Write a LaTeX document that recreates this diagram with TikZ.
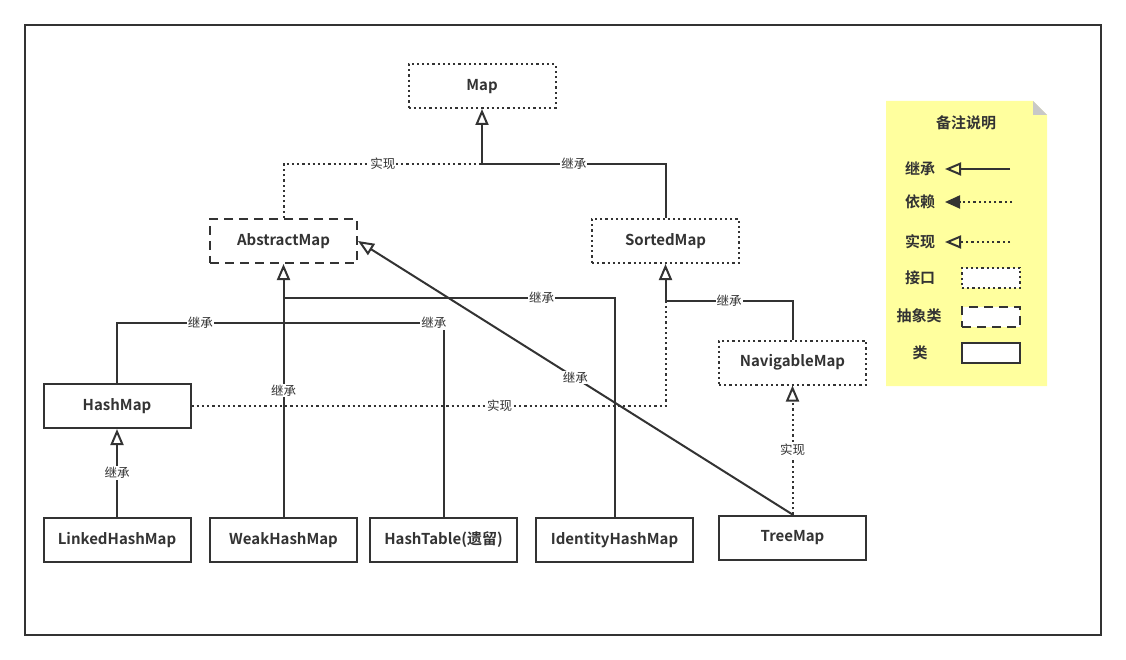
\documentclass[tikz,border=0pt]{standalone}
\usepackage{fontspec}
\setmainfont{Noto Sans CJK SC}[BoldFont={* Bold}]
\usetikzlibrary{arrows.meta}

\definecolor{ink}{HTML}{333333}
\definecolor{memo}{HTML}{FFFF9E}
\definecolor{fold}{HTML}{C8C8C8}

\begin{document}
\begin{tikzpicture}[x=1pt,y=-1pt,color=ink,line width=2pt,
    >={Triangle[open,length=16pt,width=13pt]},
    box/.style={draw,fill=white,line width=2pt,minimum width=147pt,minimum height=44pt,
                text height=0.92em,text depth=0.06em,
                font=\fontsize{15}{17}\selectfont\bfseries},
    iface/.style={box,dash pattern=on 2.2pt off 3pt},
    abstract/.style={box,dash pattern=on 9pt off 6pt},
    cls/.style={box},
    realise/.style={dash pattern=on 2.2pt off 3pt},
    lbl/.style={fill=white,inner sep=1pt,font=\fontsize{12.5}{14}\selectfont},
    keytext/.style={font=\fontsize{15}{17}\selectfont\bfseries},
    keybox/.style={minimum width=58pt,minimum height=20pt}]

    \useasboundingbox (0,0) rectangle (1126,660);
    \draw[line width=1.6pt] (25,25) rectangle (1101,635);

    % interfaces, abstract class, classes
    \node[iface] (map) at (482,86) {Map};
    \node[abstract] (abs) at (283.5,241) {AbstractMap};
    \node[iface] (sorted) at (665.5,241) {SortedMap};
    \node[iface] (nav) at (792.5,362.5) {NavigableMap};
    \node[cls] (hash) at (117,406) {HashMap};
    \node[cls] (linked) at (117,540) {LinkedHashMap};
    \node[cls] (weak) at (283.5,540) {WeakHashMap};
    \node[cls] (table) at (443.5,540) {HashTable(遗留)};
    \node[cls,minimum width=157pt] (ident) at (614.5,540) {IdentityHashMap};
    \node[cls] (tree) at (792.5,537.5) {TreeMap};

    \coordinate (mapjoin) at (482,164);
    \coordinate (absjoin) at (283.5,323);
    \coordinate (absjoinb) at (283.5,298);
    \coordinate (sortjoin) at (665.5,301);

    \draw[realise] (abs.north) |- node[lbl,pos=0.75] {实现} (mapjoin);
    \draw[->] (sorted.north) |- node[lbl,pos=0.75] {继承} (mapjoin) -- (map.south);

    \draw[->] (weak.north) -- node[lbl] {继承} (abs.south);
    \draw (hash.north) |- node[lbl,pos=0.75] {继承} (absjoin);
    \draw (table.north) |- node[lbl,pos=0.53] {继承} (absjoin);
    \draw (ident.north) |- node[lbl,pos=0.61] {继承} (absjoinb);
    \draw[->] (tree.north) -- node[lbl] {继承} (abs.east);

    \draw[realise] (hash.east) -| node[lbl,pos=0.325] {实现} (sortjoin);
    \draw[->] (nav.north) |- node[lbl,pos=0.75] {继承} (sortjoin) -- (sorted.south);
    \draw[realise,->] (tree.north) -- node[lbl] {实现} (nav.south);
    \draw[->] (linked.north) -- node[lbl] {继承} (hash.south);

    % legend
    \fill[memo] (886,101) -- (1033,101) -- (1047,115) -- (1047,386) -- (886,386) -- cycle;
    \fill[fold] (1033,101) -- (1047,115) -- (1033,115) -- cycle;
    \node[keytext] (title) at (966,123) {备注说明};

    \node[keytext] (kinherit) at (920,169) {继承};
    \coordinate (kinheritA) at (1010,169);
    \coordinate (kinheritB) at (945,169);
    \draw[->] (kinheritA) -- (kinheritB);

    \node[keytext] (kdepend) at (920,202) {依赖};
    \coordinate (kdependA) at (1012,202);
    \coordinate (kdependB) at (945,202);
    \draw[realise,-{Triangle[length=15pt,width=13pt]}] (kdependA) -- (kdependB);

    \node[keytext] (krealise) at (920,242) {实现};
    \coordinate (krealiseA) at (1010,242);
    \coordinate (krealiseB) at (945,242);
    \draw[realise,->] (krealiseA) -- (krealiseB);

    \node[keytext] (kiface) at (920,278) {接口};
    \node[iface,keybox] (kifacebox) at (991,278) {};
    \node[keytext] (kabstract) at (919,316) {抽象类};
    \node[abstract,keybox] (kabstractbox) at (991,317) {};
    \node[keytext] (kcls) at (920,353) {类};
    \node[cls,keybox] (kclsbox) at (991,352.5) {};

\end{tikzpicture}
\end{document}
